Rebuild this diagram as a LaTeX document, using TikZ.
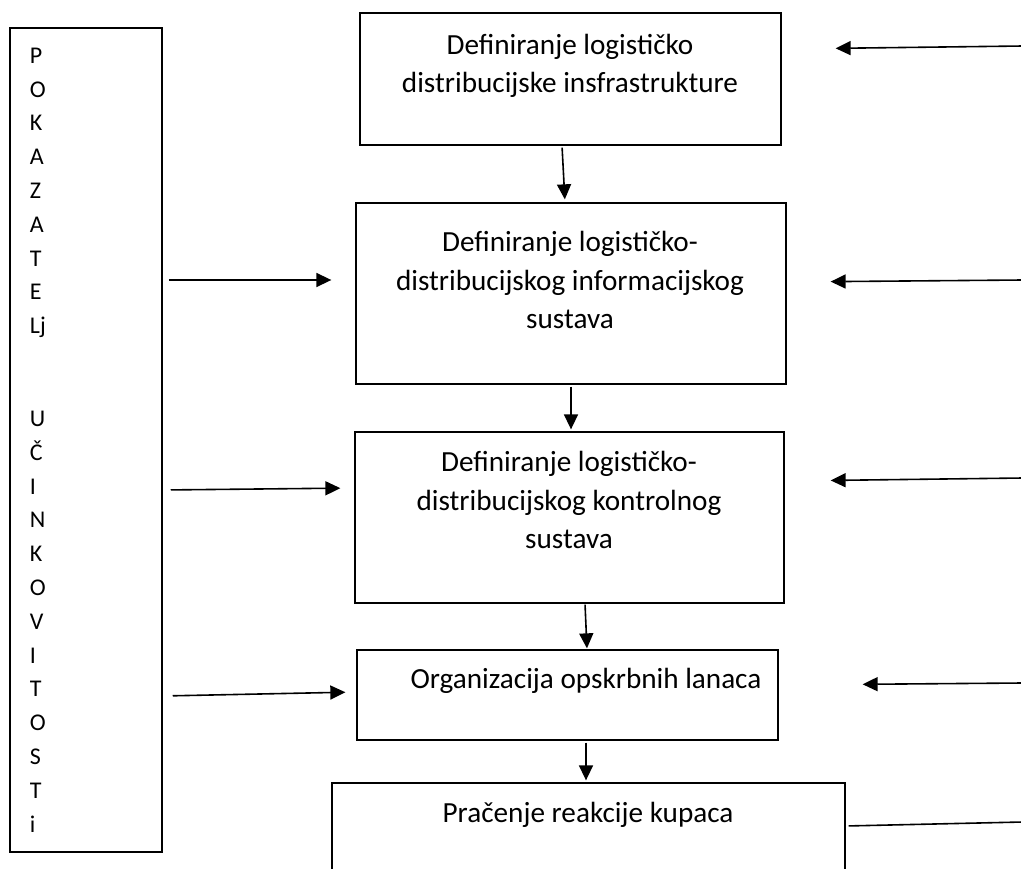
\documentclass[tikz,border=0pt]{standalone}
\usepackage{fontspec}
\setmainfont{Carlito}
\usetikzlibrary{arrows.meta}

\begin{document}
\begin{tikzpicture}[x=1pt, y=-1pt,
    box/.style={draw, line width=1.3pt, inner sep=0pt},
    txt/.style={align=center, inner sep=0pt, font=\fontsize{29.2}{38.5}\selectfont},
    arr/.style={line width=1.6pt, -{Triangle[length=15pt, width=14pt]}}]
    \useasboundingbox (0,0) rectangle (1021,869);
    \clip (0,0) rectangle (1021,869);

    % pokazatelji
    \node[box, line width=1.5pt, align=left, text width=112pt, inner xsep=20pt,
        minimum height=824pt, font=\fontsize{24}{33.8}\selectfont] (pok) at (86,440)
        {P\\O\\K\\A\\Z\\A\\T\\E\\Lj\\[59pt]U\\Č\\I\\N\\K\\O\\V\\I\\T\\O\\S\\T\\i};

    % koraci
    \node[box, minimum width=421pt, minimum height=132pt] (b1) at (570.5,79) {};
    \node[box, minimum width=430pt, minimum height=181pt] (b2) at (571,293.5) {};
    \node[box, minimum width=429pt, minimum height=171pt] (b3) at (569.5,517.5) {};
    \node[box, minimum width=421pt, minimum height=90pt] (b4) at (567.5,695) {};
    \node[box, minimum width=513pt, minimum height=117pt] (b5) at (588.5,841.5) {};

    \node[txt] (t1) at (570,66) {Definiranje logističko\\distribucijske insfrastrukture};
    \node[txt] (t2) at (570,280) {Definiranje logističko-\\distribucijskog informacijskog\\sustava};
    \node[txt] (t3) at (569,500) {Definiranje logističko-\\distribucijskog kontrolnog\\sustava};
    \node[txt] (t4) at (586,681) {Organizacija opskrbnih lanaca};
    \node[txt] (t5) at (588,815) {Pračenje reakcije kupaca};

    \draw[arr, shorten <=2pt, shorten >=3pt] (b1.south -| 562,0) -- (b2.north -| 565,0);
    \draw[arr, shorten <=2pt, shorten >=2pt] (b2.south -| 571,0) -- (b3.north -| 571,0);
    \draw[arr, shorten <=1pt, shorten >=1pt] (b3.south -| 585,0) -- (b4.north -| 587,0);
    \draw[arr, shorten <=2pt, shorten >=2pt] (b4.south -| 586,0) -- (b5.north -| 586,0);

    % lijeve strelice
    \draw[arr, shorten <=6pt, shorten >=24pt] (pok.east |- 0,280) -- (b2.west |- 0,280);
    \draw[arr, shorten <=8pt, shorten >=14pt] (pok.east |- 0,490) -- (b3.west |- 0,488);
    \draw[arr, shorten <=10pt, shorten >=11pt] (pok.east |- 0,696) -- (b4.west |- 0,692);

    % desne strelice
    \coordinate (r1) at (1023,46);
    \coordinate (r2) at (1023,280);
    \coordinate (r3) at (1023,478);
    \coordinate (r4) at (1023,683);
    \coordinate (r5) at (1023,822);
    \draw[arr, shorten >=54pt] (r1) -- (b1.east |- 0,49);
    \draw[arr, shorten >=44pt] (r2) -- (b2.east |- 0,282);
    \draw[arr, shorten >=46pt] (r3) -- (b3.east |- 0,481);
    \draw[arr, shorten >=84pt] (r4) -- (b4.east |- 0,685);
    \draw[line width=1.6pt, shorten >=3pt] (r5) -- (b5.east |- 0,826);
\end{tikzpicture}
\end{document}
